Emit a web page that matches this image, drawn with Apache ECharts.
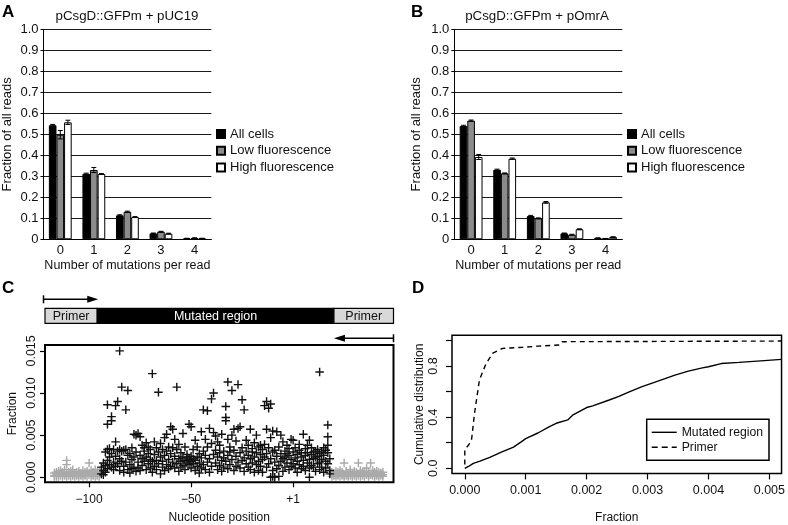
<!DOCTYPE html>
<html><head><meta charset="utf-8">
<script src="https://cdn.jsdelivr.net/npm/echarts@6/dist/echarts.min.js"></script>
<style>html,body{margin:0;padding:0;background:#fff}#c{width:788px;height:525px}</style>
</head><body><div id="c"></div>
<script>
const FONT = '"Liberation Sans", Arial, Helvetica, sans-serif';

// ---------- Panels A & B ----------
const mutationCounts = ['0', '1', '2', '3', '4'];
const groupNames = ['All cells', 'Low fluorescence', 'High fluorescence'];
const groupColors = ['#000000', '#8c8c8c', '#ffffff'];

const pUC19All  = [0.543, 0.312, 0.114, 0.028, 0.004];
const pUC19Low  = [0.498, 0.330, 0.131, 0.036, 0.006];
const pUC19High = [0.557, 0.311, 0.106, 0.027, 0.004];
const pUC19AllErr  = [0.004, 0.003, 0.003, 0.002, 0.001];
const pUC19LowErr  = [0.020, 0.012, 0.003, 0.002, 0.001];
const pUC19HighErr = [0.010, 0.002, 0.002, 0.002, 0.001];

const pOmrAAll  = [0.540, 0.331, 0.111, 0.028, 0.006];
const pOmrALow  = [0.565, 0.314, 0.100, 0.022, 0.003];
const pOmrAHigh = [0.392, 0.384, 0.176, 0.048, 0.011];
const pOmrAAllErr  = [0.003, 0.003, 0.003, 0.002, 0.001];
const pOmrALowErr  = [0.003, 0.002, 0.002, 0.002, 0.001];
const pOmrAHighErr = [0.012, 0.003, 0.004, 0.002, 0.001];

// ---------- Panel C ----------
const positionTicks = [-100, -50, 0];          // 0 is labelled "+1"
const fractionTicksC = [0, 0.005, 0.010, 0.015];
const schematicBounds = [-96, 20];            // primer / mutated region boundaries

const primerPointsLeft = [
 [-117,[0.0002,0.0005,0.0001]],[-116,[0.0004,0.0001,0.0006]],[-115,[0.0003,0.0007,0.0001]],
 [-114,[0.0005,0.0002,0.0008]],[-113,[0.0001,0.0004,0.0006]],[-112,[0.0003,0.0009,0.0002]],
 [-111,[0.0020,0.0015,0.0004,0.0001]],[-110,[0.0006,0.0002,0.0003]],[-109,[0.0004,0.0001,0.0007]],
 [-108,[0.0009,0.0003,0.0002]],[-107,[0.0005,0.0001,0.0004]],[-106,[0.0002,0.0006,0.0003]],
 [-105,[0.0007,0.0001,0.0004]],[-104,[0.0003,0.0005,0.0002]],[-103,[0.0008,0.0001,0.0004]],
 [-102,[0.0002,0.0006,0.0003]],[-101,[0.0005,0.0001,0.0007]],[-100,[0.0017,0.0003,0.0005]],
 [-99,[0.0004,0.0001,0.0008]],[-98,[0.0002,0.0006,0.0003]],[-97,[0.0005,0.0009,0.0001]],
 [-96,[0.0003,0.0006,0.0002]],[-95,[0.0004,0.0001,0.0007]]
];
const primerPointsRight = [
 [19,[0.0004,0.0001,0.0006]],[20,[0.0002,0.0005,0.0003]],[21,[0.0007,0.0001,0.0004]],
 [22,[0.0003,0.0006,0.0002]],[23,[0.0005,0.0001,0.0008]],[24,[0.0002,0.0004,0.0006]],
 [25,[0.0017,0.0003,0.0001]],[26,[0.0005,0.0002,0.0007]],[27,[0.0004,0.0001,0.0003]],
 [28,[0.0006,0.0002,0.0009]],[29,[0.0003,0.0005,0.0001]],[30,[0.0007,0.0002,0.0004]],
 [31,[0.0001,0.0006,0.0003]],[32,[0.0017,0.0004,0.0002]],[33,[0.0005,0.0001,0.0008]],
 [34,[0.0003,0.0006,0.0002]],[35,[0.0004,0.0001,0.0007]],[36,[0.0011,0.0003,0.0005]],
 [37,[0.0002,0.0006,0.0001]],[38,[0.0017,0.0004,0.0003]],[39,[0.0005,0.0002,0.0008]],
 [40,[0.0003,0.0006,0.0001]],[41,[0.0004,0.0002,0.0007]],[42,[0.0006,0.0001,0.0003]],
 [43,[0.0002,0.0005,0.0004]],[44,[0.0003,0.0001,0.0006]]
];
const mutatedPoints = [
 [-94,[0.0004,0.0012]],[-93,[0.0008,0.0017,0.0003]],[-92,[0.0014,0.0006,0.0030]],
 [-91,[0.0063,0.0086,0.0010,0.0033,0.0020]],[-90,[0.0034,0.0015,0.0024]],
 [-89,[0.0072,0.0067,0.0028,0.0012]],[-88,[0.0033,0.0018,0.0009]],
 [-87,[0.0085,0.0042,0.0025,0.0013]],[-86,[0.0090,0.0031,0.0016]],
 [-85,[0.0150,0.0022,0.0008,0.0033]],[-84,[0.0107,0.0019,0.0031]],
 [-83,[0.0032,0.0013,0.0006]],[-82,[0.0080,0.0033,0.0018]],[-81,[0.0103,0.0009,0.0026]],
 [-80,[0.0015,0.0028,0.0005]],[-79,[0.0021,0.0010,0.0035]],[-78,[0.0051,0.0012,0.0024]],
 [-77,[0.0050,0.0007,0.0030]],[-76,[0.0052,0.0018,0.0011]],[-75,[0.0048,0.0026,0.0008]],
 [-74,[0.0038,0.0014,0.0022]],[-73,[0.0035,0.0019,0.0031]],[-72,[0.0041,0.0009,0.0024]],
 [-71,[0.0028,0.0016,0.0036]],[-70,[0.0033,0.0011,0.0021]],[-69,[0.0123,0.0019,0.0006]],
 [-68,[0.0042,0.0027,0.0013]],[-67,[0.0035,0.0009,0.0020]],[-66,[0.0101,0.0016,0.0030]],
 [-65,[0.0040,0.0024,0.0004]],[-64,[0.0012,0.0033,0.0019]],[-63,[0.0047,0.0008,0.0026]],
 [-62,[0.0051,0.0015,0.0031]],[-61,[0.0036,0.0021,0.0010]],[-60,[0.0060,0.0013,0.0028]],
 [-59,[0.0057,0.0018,0.0035]],[-58,[0.0045,0.0011,0.0025]],[-57,[0.0107,0.0033,0.0016]],
 [-56,[0.0039,0.0007,0.0022]],[-55,[0.0029,0.0019,0.0012]],[-54,[0.0052,0.0024,0.0014]],
 [-53,[0.0036,0.0020,0.0009]],[-52,[0.0023,0.0017,0.0027]],[-51,[0.0063,0.0021,0.0015]],
 [-50,[0.0060,0.0019,0.0025,0.0011]],[-49,[0.0022,0.0016,0.0033]],[-48,[0.0044,0.0020,0.0008]],
 [-47,[0.0036,0.0013,0.0024]],[-46,[0.0028,0.0005,0.0017]],[-45,[0.0054,0.0023,0.0011]],
 [-44,[0.0080,0.0031,0.0015]],[-43,[0.0045,0.0009,0.0026]],[-42,[0.0079,0.0036,0.0018]],
 [-41,[0.0058,0.0022,0.0006]],[-40,[0.0093,0.0040,0.0013]],[-39,[0.0100,0.0053,0.0027]],
 [-38,[0.0049,0.0017,0.0032]],[-37,[0.0042,0.0024,0.0009]],[-36,[0.0038,0.0014,0.0029]],
 [-35,[0.0051,0.0020,0.0007]],[-34,[0.0031,0.0012,0.0023]],[-33,[0.0084,0.0071,0.0067,0.0019]],
 [-32,[0.0113,0.0045,0.0026,0.0010]],[-31,[0.0036,0.0015,0.0030]],[-30,[0.0103,0.0050,0.0021]],
 [-29,[0.0057,0.0032,0.0008]],[-28,[0.0043,0.0013,0.0025]],[-27,[0.0110,0.0058,0.0018]],
 [-26,[0.0060,0.0029,0.0011]],[-25,[0.0092,0.0035,0.0020]],[-24,[0.0080,0.0023,0.0007]],
 [-23,[0.0044,0.0016,0.0031]],[-22,[0.0038,0.0026,0.0012]],[-21,[0.0057,0.0009,0.0022]],
 [-20,[0.0030,0.0017,0.0034]],[-19,[0.0041,0.0024,0.0006]],[-18,[0.0050,0.0029,0.0015]],
 [-17,[0.0036,0.0019,0.0008]],[-16,[0.0027,0.0038,0.0013]],[-15,[0.0033,0.0021,0.0006]],
 [-14,[0.0085,0.0039,0.0024]],[-13,[0.0090,0.0057,0.0028,0.0012]],[-12,[0.0082,0.0035,0.0016]],
 [-11,[0.0087,0.0047,0.0022,0.0000]],[-10,[0.0055,0.0030,0.0008,0.0001]],[-9,[0.0032,0.0018,0.0000]],
 [-8,[0.0054,0.0025,0.0010]],[-7,[0.0036,0.0014,0.0001]],[-6,[0.0050,0.0028,0.0019]],
 [-5,[0.0042,0.0022,0.0007]],[-4,[0.0031,0.0012,0.0024]],[-3,[0.0038,0.0017,0.0028]],
 [-2,[0.0026,0.0009,0.0034]],[-1,[0.0045,0.0021,0.0013]],[0,[0.0044,0.0030,0.0016]],
 [1,[0.0035,0.0011,0.0023]],[2,[0.0027,0.0006,0.0019]],[3,[0.0032,0.0015,0.0039]],
 [4,[0.0024,0.0010,0.0029]],[5,[0.0051,0.0020,0.0013]],[6,[0.0034,0.0008,0.0026]],
 [7,[0.0029,0.0017,0.0038]],[8,[0.0044,0.0021,0.0000,0.0011]],[9,[0.0035,0.0027,0.0014]],
 [10,[0.0030,0.0012,0.0022]],[11,[0.0024,0.0007,0.0031]],[12,[0.0033,0.0016,0.0025]],
 [13,[0.0125,0.0028,0.0018,0.0009]],[14,[0.0030,0.0021,0.0012]],[15,[0.0026,0.0035,0.0006]],
 [16,[0.0032,0.0019,0.0011]],[17,[0.0062,0.0048,0.0038,0.0029,0.0016]],[18,[0.0022,0.0008,0.0004]]
];

// ---------- Panel D ----------
const fractionTicksD = [0, 0.001, 0.002, 0.003, 0.004, 0.005];
const cumTicks = [0, 0.2, 0.4, 0.6, 0.8, 1.0];
const cumLabels = [0, 0.4, 0.8];
const cdfMutated = [
 [0,0],[0.00003,0.004],[0.00006,0.014],[0.00014,0.039],[0.00025,0.056],[0.00041,0.086],
 [0.0006,0.126],[0.0008,0.166],[0.00092,0.205],[0.001,0.232],[0.0012,0.276],[0.00139,0.325],
 [0.0015,0.352],[0.00169,0.378],[0.00177,0.415],[0.002,0.475],[0.0021,0.488],[0.00237,0.534],
 [0.00253,0.562],[0.0027,0.598],[0.00291,0.638],[0.0031,0.67],[0.00345,0.729],[0.00367,0.76],
 [0.0039,0.785],[0.004,0.794],[0.00421,0.819],[0.0045,0.828],[0.0048,0.838],[0.0052,0.852]
];
const cdfPrimer = [
 [0,0.03],[0,0.15],[0.00006,0.18],[0.00011,0.22],[0.00016,0.43],[0.00024,0.69],
 [0.00035,0.82],[0.00046,0.9],[0.00062,0.938],[0.00095,0.946],[0.0012,0.955],
 [0.00155,0.964],[0.0016,0.99],[0.0052,0.995]
];

// ---------- build ----------
const flat = groups => groups.flatMap(([p, vals]) => vals.map(v => [p, v]));
const plusPath = 'path://M5,0H7V5H12V7H7V12H5V7H0V5H5Z';
const solidIcon = 'path://M0,0H25V1.4H0Z';
const dashIcon = 'path://M0,0H6V1.4H0Z M10,0H16V1.4H10Z M20,0H25V1.4H20Z';
const BAR_GAP = 0.32;

function errRender(params, api) {
  const cat = api.value(0), val = api.value(1), err = api.value(2), k = api.value(3);
  const band = api.size([1, 0])[0];
  const gw = band * (1 - BAR_GAP), bw = gw / 3;
  const cx = api.coord([cat, 0])[0] - gw / 2 + (k + 0.5) * bw;
  const yt = api.coord([cat, val + err])[1], yb = api.coord([cat, Math.max(0, val - err)])[1];
  const cw = bw * 0.32;
  const st = { stroke: '#000', lineWidth: 1 };
  return { type: 'group', children: [
    { type: 'line', shape: { x1: cx, y1: yt, x2: cx, y2: yb }, style: st },
    { type: 'line', shape: { x1: cx - cw, y1: yt, x2: cx + cw, y2: yt }, style: st },
    { type: 'line', shape: { x1: cx - cw, y1: yb, x2: cx + cw, y2: yb }, style: st }
  ]};
}
function errData(vals, errs) {
  const out = [];
  vals.forEach((vs, k) => vs.forEach((v, i) => out.push([i, v, errs[k][i], k])));
  return out;
}

const barGrid = (left) => ({ left: left, top: 29.3, width: 168, height: 210 });
const catAxis = (gi) => ({
  type: 'category', gridIndex: gi, data: mutationCounts,
  axisLine: { onZero: false, lineStyle: { color: '#000', width: 1 } },
  axisTick: { length: 4, lineStyle: { color: '#000' } },
  axisLabel: { color: '#111', fontSize: 13, fontFamily: FONT, margin: 5 },
  name: 'Number of mutations per read', nameLocation: 'middle', nameGap: 20,
  nameTextStyle: { color: '#111', fontSize: 12.5, fontFamily: FONT }
});
const fracAxis = (gi, gap) => ({
  type: 'value', gridIndex: gi, min: 0, max: 1, interval: 0.1,
  axisLine: { show: true, onZero: false, lineStyle: { color: '#000' } },
  axisTick: { show: true, length: 3, lineStyle: { color: '#000' } },
  axisLabel: { color: '#111', fontSize: 13, fontFamily: FONT, margin: 5,
    formatter: v => v === 0 ? '0' : v.toFixed(1) },
  splitLine: { show: true, lineStyle: { color: '#1a1a1a', width: 1 } },
  name: 'Fraction of all reads', nameLocation: 'middle', nameGap: gap,
  nameTextStyle: { color: '#111', fontSize: 13, fontFamily: FONT }
});
const barSeries = (gi, vals) => vals.map((v, k) => ({
  type: 'bar', name: groupNames[k], xAxisIndex: gi, yAxisIndex: gi, data: v,
  barGap: '0%', barCategoryGap: (BAR_GAP * 100) + '%',
  itemStyle: { color: groupColors[k], borderColor: '#000', borderWidth: 1 }
}));
const barLegend = (left) => ({
  data: groupNames, orient: 'vertical', left: left, top: 127.5, padding: 0, itemWidth: 8, itemHeight: 8,
  itemGap: 3.8, icon: 'rect', selectedMode: false,
  textStyle: { color: '#111', fontSize: 13, fontFamily: FONT }
});

const option = {
  animation: false,
  backgroundColor: '#fff',
  grid: [
    barGrid(43.3), barGrid(454.3),
    { left: 45, top: 345, width: 348.5, height: 137.3, show: true, borderColor: '#000', borderWidth: 2, backgroundColor: 'transparent' },
    { left: 452, top: 335.3, width: 332, height: 138.1, show: true, borderColor: '#000', borderWidth: 1.5, backgroundColor: 'transparent' }
  ],
  legend: [
    barLegend(216), barLegend(627),
    { data: [{ name: 'Mutated region', icon: solidIcon }, { name: 'Primer', icon: dashIcon }],
      orient: 'vertical', left: 646.7, top: 419.3,
      itemWidth: 25, itemHeight: 1.4, itemGap: 3, selectedMode: false,
      borderColor: '#000', borderWidth: 1.5, backgroundColor: '#fff', padding: [7, 6, 7, 5],
      textStyle: { color: '#111', fontSize: 12.2, fontFamily: FONT } }
  ],
  xAxis: [
    catAxis(0), catAxis(1),
    { type: 'value', gridIndex: 2, min: -121.6, max: 49.2,
      axisLine: { show: false, onZero: false }, splitLine: { show: false },
      axisTick: { show: true, length: 5, customValues: positionTicks, lineStyle: { color: '#000', width: 1.2 } },
      axisLabel: { customValues: positionTicks, color: '#111', fontSize: 12, fontFamily: FONT, margin: 11,
        formatter: v => v === 0 ? '+1' : (v < 0 ? '\u2212' + Math.abs(v) : String(v)) },
      name: 'Nucleotide position', nameLocation: 'middle', nameGap: 29,
      nameTextStyle: { color: '#111', fontSize: 12, fontFamily: FONT } },
    { type: 'value', gridIndex: 3, min: -0.00021, max: 0.0052,
      axisLine: { show: false, onZero: false }, splitLine: { show: false },
      axisTick: { show: true, length: 6, customValues: fractionTicksD, lineStyle: { color: '#000', width: 1.2 } },
      axisLabel: { customValues: fractionTicksD, color: '#111', fontSize: 12.5, fontFamily: FONT, margin: 11,
        formatter: v => v.toFixed(3) },
      name: 'Fraction', nameLocation: 'middle', nameGap: 38,
      nameTextStyle: { color: '#111', fontSize: 12, fontFamily: FONT } }
  ],
  yAxis: [
    fracAxis(0, 29.5), fracAxis(1, 31),
    { type: 'value', gridIndex: 2, min: -0.0006, max: 0.0157,
      axisLine: { show: false, onZero: false }, splitLine: { show: false },
      axisTick: { show: true, length: 5, customValues: fractionTicksC, lineStyle: { color: '#000', width: 1.2 } },
      axisLabel: { customValues: fractionTicksC, rotate: 90, color: '#111', fontSize: 12.5, fontFamily: FONT, margin: 7,
        formatter: v => v.toFixed(3) },
      name: 'Fraction', nameLocation: 'middle', nameGap: 26,
      nameTextStyle: { color: '#111', fontSize: 12, fontFamily: FONT } },
    { type: 'value', gridIndex: 3, min: -0.04, max: 1.04,
      axisLine: { show: false, onZero: false }, splitLine: { show: false },
      axisTick: { show: true, length: 6, customValues: cumTicks, lineStyle: { color: '#000', width: 1.2 } },
      axisLabel: { customValues: cumLabels, rotate: 90, color: '#111', fontSize: 12.5, fontFamily: FONT, margin: 12,
        formatter: v => v.toFixed(1) },
      name: 'Cumulative distribution', nameLocation: 'middle', nameGap: 26,
      nameTextStyle: { color: '#111', fontSize: 12, fontFamily: FONT } }
  ],
  series: [
    ...barSeries(0, [pUC19All, pUC19Low, pUC19High]),
    { type: 'custom', xAxisIndex: 0, yAxisIndex: 0, renderItem: errRender, z: 5,
      data: errData([pUC19All, pUC19Low, pUC19High], [pUC19AllErr, pUC19LowErr, pUC19HighErr]) },
    ...barSeries(1, [pOmrAAll, pOmrALow, pOmrAHigh]),
    { type: 'custom', xAxisIndex: 1, yAxisIndex: 1, renderItem: errRender, z: 5,
      data: errData([pOmrAAll, pOmrALow, pOmrAHigh], [pOmrAAllErr, pOmrALowErr, pOmrAHighErr]) },
    { type: 'scatter', xAxisIndex: 2, yAxisIndex: 2, symbol: plusPath, symbolSize: 8.5,
      itemStyle: { color: '#aaaaaa', opacity: 1 },
      data: flat(primerPointsLeft).concat(flat(primerPointsRight)) },
    { type: 'scatter', xAxisIndex: 2, yAxisIndex: 2, symbol: plusPath, symbolSize: 8.5,
      itemStyle: { color: '#111111', opacity: 1 }, data: flat(mutatedPoints) },
    { type: 'line', name: 'Mutated region', xAxisIndex: 3, yAxisIndex: 3, data: cdfMutated,
      symbol: 'none', showSymbol: false, lineStyle: { color: '#000', width: 1.4 }, itemStyle: { color: '#000' } },
    { type: 'line', name: 'Primer', xAxisIndex: 3, yAxisIndex: 3, data: cdfPrimer,
      symbol: 'none', showSymbol: false, lineStyle: { color: '#000', width: 1.4, type: [5, 4] }, itemStyle: { color: '#000' } }
  ]
};

const chart = echarts.init(document.getElementById('c'), null, { renderer: 'canvas' });
chart.setOption(option);

// schematic and annotations (text + primer diagram placed via axis conversion)
const px = v => chart.convertToPixel({ xAxisIndex: 2 }, v);
const xMin = px(-121.6), xMax = px(49.2), xB1 = px(schematicBounds[0]), xB2 = px(schematicBounds[1]);
const barTop = 308.3, barH = 15, a1y = 299.3, a2y = 338.3;
const txt = (t, x, y, size, color) => ({ type: 'text', z: 100,
  style: { text: t, x: x, y: y, fontSize: size, fontFamily: FONT, fill: color || '#111', align: 'center', verticalAlign: 'middle' } });
const letter = (t, x, y) => ({ type: 'text', z: 100, style: { text: t, x: x, y: y, fontSize: 17, fontWeight: 'bold', fontFamily: FONT, fill: '#000', align: 'left', verticalAlign: 'middle' } });
const lineEl = (x1, y1, x2, y2, w) => ({ type: 'line', z: 100, shape: { x1, y1, x2, y2 }, style: { stroke: '#000', lineWidth: w || 1.5 } });

chart.setOption({ graphic: [
  letter('A', 2, 12), letter('B', 411, 12), letter('C', 2, 288), letter('D', 412, 288),
  txt('pCsgD::GFPm + pUC19', 127, 16, 13.3),
  txt('pCsgD::GFPm + pOmrA', 537, 16, 13.3),
  { type: 'rect', z: 100, shape: { x: xMin, y: barTop, width: xB1 - xMin, height: barH }, style: { fill: '#d8d8d8', stroke: '#000', lineWidth: 1.2 } },
  { type: 'rect', z: 100, shape: { x: xB1, y: barTop, width: xB2 - xB1, height: barH }, style: { fill: '#000', stroke: '#000', lineWidth: 1.2 } },
  { type: 'rect', z: 100, shape: { x: xB2, y: barTop, width: xMax - xB2, height: barH }, style: { fill: '#d8d8d8', stroke: '#000', lineWidth: 1.2 } },
  txt('Primer', (xMin + xB1) / 2, barTop + barH / 2 + 0.5, 12.5),
  txt('Mutated region', (xB1 + xB2) / 2, barTop + barH / 2 + 0.5, 12.5, '#fff'),
  txt('Primer', (xB2 + xMax) / 2, barTop + barH / 2 + 0.5, 12.5),
  lineEl(xMin - 1.5, a1y, xB1 - 6, a1y), lineEl(xMin - 1.5, a1y - 4, xMin - 1.5, a1y + 4),
  { type: 'polygon', z: 100, shape: { points: [[xB1 + 1, a1y], [xB1 - 10, a1y - 3.5], [xB1 - 10, a1y + 3.5]] }, style: { fill: '#000' } },
  lineEl(xMax, a2y, xB2 + 6, a2y), lineEl(xMax, a2y - 4, xMax, a2y + 4),
  { type: 'polygon', z: 100, shape: { points: [[xB2, a2y], [xB2 + 11, a2y - 3.5], [xB2 + 11, a2y + 3.5]] }, style: { fill: '#000' } }
]});
</script></body></html>
